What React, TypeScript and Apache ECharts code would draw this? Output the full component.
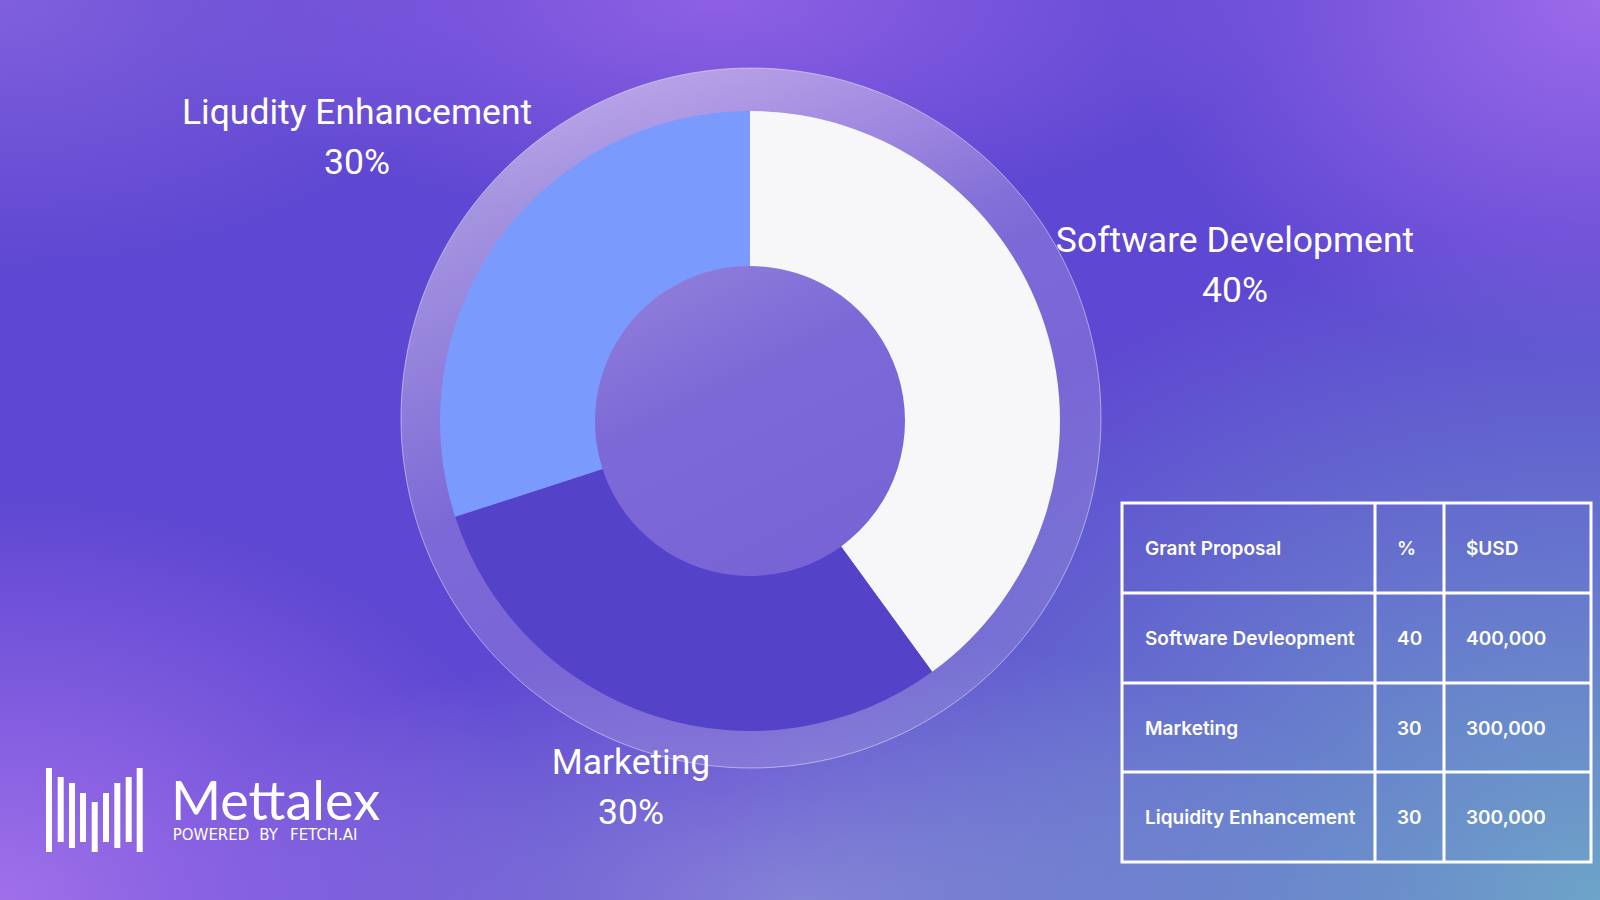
import React, { useEffect, useRef } from "react";
import * as echarts from "echarts";

// ---- data ----
const sliceNames = ["Software Development", "Marketing", "Liqudity Enhancement"];
const sliceValues = [40, 30, 30];
const sliceColors = ["#f7f7f9", "#5443c9", "#7b9afe"];

const tableHeader = ["Grant Proposal", "%", "$USD"];
const tableProposals = ["Software Devleopment", "Marketing", "Liquidity Enhancement"];
const tablePercents = ["40", "30", "30"];
const tableUsd = ["400,000", "300,000", "300,000"];

const brandName = "Mettalex";
const brandTagline = ["POWERED", "BY", "FETCH.AI"];

// ---- layout (styles / positions) ----
const labelAnchors: [number, number][] = [
  [1235, 265],
  [631, 787],
  [357, 137],
];
const colX = [1122, 1375, 1444, 1591];
const rowY = [503, 593, 683, 772, 862];
const textX = [1145, 1397, 1466];
const logoBars: [number, number, number][] = [
  [46, 768, 852],
  [57.7, 777, 842],
  [69, 783, 848],
  [80, 793, 842],
  [91.7, 802, 852],
  [103, 793, 842],
  [114.3, 783, 848],
  [125.7, 777, 842],
  [136.7, 768, 852],
];
const taglineX = [172.7, 259.3, 290];

export default function App() {
  const ref = useRef<HTMLDivElement>(null);

  useEffect(() => {
    document.body.style.margin = "0";
    if (!ref.current) return;
    const chart = echarts.init(ref.current, undefined, { renderer: "svg" });

    const graphic: any[] = [];
    // logo bars
    logoBars.forEach(([x, y1, y2]) => {
      graphic.push({
        type: "rect",
        shape: { x, y: y1, width: 6, height: y2 - y1 },
        style: { fill: "#ffffff" },
        silent: true,
      });
    });
    graphic.push({
      type: "text",
      x: 171,
      y: 799,
      style: {
        text: brandName,
        fill: "#ffffff",
        fontFamily: "Lato",
        fontSize: 54,
        lineHeight: 42,
        fontWeight: 400,
        textAlign: "left",
        textVerticalAlign: "middle",
      },
      silent: true,
    });
    brandTagline.forEach((w, i) => {
      graphic.push({
        type: "text",
        x: taglineX[i],
        y: 835,
        style: {
          text: w,
          fill: "#ffffff",
          fontFamily: "DejaVu Sans",
          fontSize: 15,
          lineHeight: 14,
          fontWeight: 400,
          textAlign: "left",
          textVerticalAlign: "middle",
        },
        silent: true,
      });
    });

    // table
    const lineStyle = { stroke: "#ffffff", lineWidth: 3 };
    graphic.push({
      type: "rect",
      shape: {
        x: colX[0],
        y: rowY[0],
        width: colX[3] - colX[0],
        height: rowY[4] - rowY[0],
      },
      style: { fill: "none", ...lineStyle },
      silent: true,
    });
    [colX[1], colX[2]].forEach((x) => {
      graphic.push({
        type: "line",
        shape: { x1: x, y1: rowY[0], x2: x, y2: rowY[4] },
        style: lineStyle,
        silent: true,
      });
    });
    [rowY[1], rowY[2], rowY[3]].forEach((y) => {
      graphic.push({
        type: "line",
        shape: { x1: colX[0], y1: y, x2: colX[3], y2: y },
        style: lineStyle,
        silent: true,
      });
    });
    const rows: string[][] = [tableHeader];
    tableProposals.forEach((p, i) => rows.push([p, tablePercents[i], tableUsd[i]]));
    rows.forEach((r, ri) => {
      const cy = (rowY[ri] + rowY[ri + 1]) / 2 + 0.5;
      r.forEach((t, ci) => {
        graphic.push({
          type: "text",
          x: textX[ci],
          y: cy,
          style: {
            text: t,
            fill: "#ffffff",
            fontFamily: "Inter",
            fontSize: 19,
            fontWeight: 600,
            textAlign: "left",
            textVerticalAlign: "middle",
          },
          silent: true,
        });
      });
    });

    chart.setOption({
      animation: false,
      backgroundColor: "transparent",
      graphic,
      series: [
        {
          type: "pie",
          silent: true,
          center: [751, 418],
          radius: [0, 350],
          z: 1,
          label: { show: false },
          labelLine: { show: false },
          emphasis: { disabled: true },
          data: [
            {
              value: 1,
              name: "disc",
              itemStyle: {
                color: new echarts.graphic.LinearGradient(0.25, 0, 0.75, 1, [
                  { offset: 0, color: "rgba(228,218,238,0.62)" },
                  { offset: 0.45, color: "rgba(222,212,228,0.24)" },
                  { offset: 1, color: "rgba(222,212,228,0.16)" },
                ]),
                borderColor: "rgba(255,255,255,0.45)",
                borderWidth: 1,
              },
            },
          ],
        },
        {
          type: "pie",
          silent: true,
          center: [750, 421],
          radius: [155, 310],
          startAngle: 90,
          clockwise: true,
          z: 2,
          emphasis: { disabled: true },
          labelLine: { show: false },
          label: {
            show: true,
            position: "outside",
            formatter: "{b}\n{d}%",
            color: "#ffffff",
            fontFamily: "Roboto",
            fontSize: 35.5,
            lineHeight: 50,
            fontWeight: 400,
          },
          labelLayout: (params: any) => {
            const a = labelAnchors[params.dataIndex];
            return { x: a[0], y: a[1], align: "center", verticalAlign: "middle" };
          },
          data: sliceNames.map((n, i) => ({
            name: n,
            value: sliceValues[i],
            itemStyle: { color: sliceColors[i] },
          })),
        },
      ],
    });

    return () => chart.dispose();
  }, []);

  return (
    <div
      ref={ref}
      style={{
        position: "fixed",
        left: 0,
        top: 0,
        width: 1600,
        height: 900,
        background: [
          "radial-gradient(ellipse 55% 75% at 100% 100%, rgba(110,164,200,1) 0%, rgba(110,164,200,0) 100%)",
          "radial-gradient(ellipse 35% 45% at 0% 100%, rgba(160,112,234,1) 0%, rgba(160,112,234,0) 100%)",
          "radial-gradient(ellipse 40% 30% at 50% 100%, rgba(138,134,216,0.9) 0%, rgba(138,134,216,0) 100%)",
          "radial-gradient(ellipse 30% 40% at 100% 0%, rgba(156,106,234,1) 0%, rgba(156,106,234,0) 100%)",
          "radial-gradient(ellipse 35% 25% at 45% 0%, rgba(142,96,228,1) 0%, rgba(142,96,228,0) 100%)",
          "radial-gradient(ellipse 30% 30% at 0% 0%, rgba(128,96,220,1) 0%, rgba(128,96,220,0) 100%)",
          "#5e47d2",
        ].join(","),
      }}
    />
  );
}
